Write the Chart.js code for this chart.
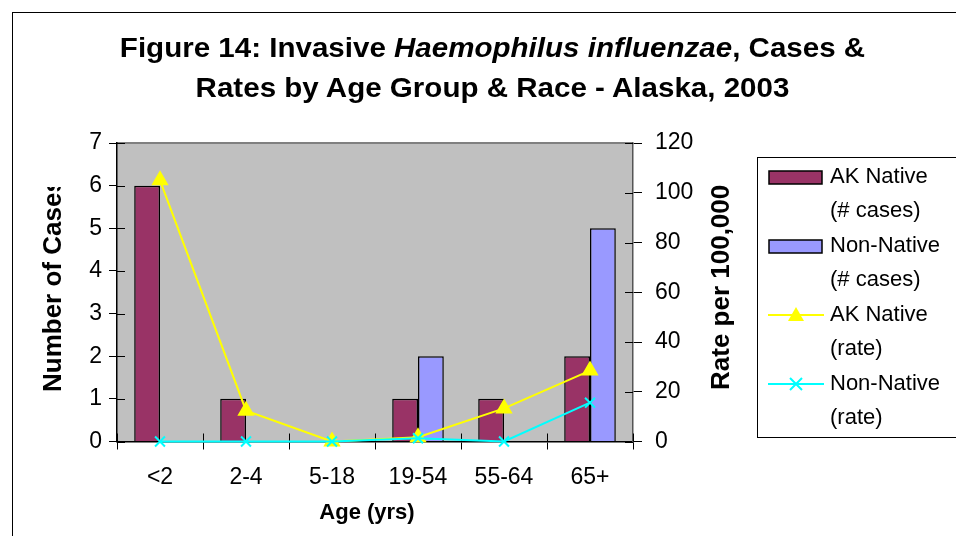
<!DOCTYPE html>
<html>
<head>
<meta charset="utf-8">
<script src="https://cdn.jsdelivr.net/npm/chart.js@4/dist/chart.umd.min.js"></script>
<style>
  body { margin: 0; background: #fff; font-family: "Liberation Sans", Arial, sans-serif; }
  #wrap { position: relative; width: 956px; height: 536px; overflow: hidden; }
  #frame { position: absolute; left: 12px; top: 12px; width: 1000px; height: 600px; border-left: 1px solid #000; border-top: 1px solid #000; }
  canvas { position: absolute; left: 0; top: 0; }
  .title { position: absolute; left: 0; width: 985px; text-align: center; font-weight: bold; font-size: 28px; color: #000; transform: scaleX(1.055); }
  .axt { position: absolute; font-weight: bold; font-size: 26px; color: #000; white-space: nowrap; }
  #legend { position: absolute; left: 757px; top: 157px; width: 260px; height: 279px; border: 1px solid #000; background: #fff; }
  .li { position: absolute; left: 72px; font-size: 22px; line-height: 34px; color: #000; }
  .sw { position: absolute; left: 10px; }
</style>
</head>
<body>
<div id="wrap">
  <div id="frame"></div>
  <canvas id="chart" width="956" height="536"></canvas>
  <div class="title" style="top:32px">Figure 14: Invasive <i>Haemophilus influenzae</i>, Cases &amp;</div>
  <div class="title" style="top:72px">Rates by Age Group &amp; Race - Alaska, 2003</div>
  <div style="position:absolute; left:30px; top:187px; width:40px; height:240px; overflow:hidden;">
    <div class="axt" style="left:7px; top:205px; transform-origin:0 0; transform:rotate(-90deg);">Number of Cases</div>
  </div>
  <div class="axt" style="left:705px; top:390px; transform-origin:0 0; transform:rotate(-90deg);">Rate per 100,000</div>
  <div class="axt" style="left:367px; top:499px; transform:translateX(-50%); font-size:22px;">Age (yrs)</div>
  <div id="legend"></div>
</div>
<script>
const ageGroups = ["<2", "2-4", "5-18", "19-54", "55-64", "65+"];
const nativeCases = [6, 1, 0, 1, 1, 2];
const nonNativeCases = [0, 0, 0, 2, 0, 5];
const nativeRate = [105, 12.4, 0, 1.7, 13.3, 28.5];
const nonNativeRate = [0, 0, 0, 1.3, 0, 15.6];
const casesTicks = [0, 1, 2, 3, 4, 5, 6, 7];
const rateTicks = [0, 20, 40, 60, 80, 100, 120];

const legendItems = [
  { l1: "AK Native", l2: "(# cases)", kind: "bar", color: "#993366" },
  { l1: "Non-Native", l2: "(# cases)", kind: "bar", color: "#9999FF" },
  { l1: "AK Native", l2: "(rate)", kind: "tri", color: "#FFFF00" },
  { l1: "Non-Native", l2: "(rate)", kind: "x", color: "#00FFFF" }
];

// gray plot area + top edge
const plotBg = {
  id: "plotBg",
  beforeDraw(chart) {
    const a = chart.chartArea;
    const ctx = chart.ctx;
    ctx.save();
    ctx.fillStyle = "#C0C0C0";
    ctx.fillRect(a.left, a.top, a.right - a.left, a.bottom - a.top);
    ctx.strokeStyle = "#808080";
    ctx.lineWidth = 2;
    ctx.beginPath();
    ctx.moveTo(a.left, a.top);
    ctx.lineTo(a.right, a.top);
    ctx.stroke();
    ctx.restore();
  }
};

// excel style ticks cross the axis, draw the inside half here
const innerTicks = {
  id: "innerTicks",
  beforeDatasetsDraw(chart) {
    const ctx = chart.ctx;
    const a = chart.chartArea;
    const len = 8;
    ctx.save();
    ctx.strokeStyle = "#000";
    ctx.lineWidth = 1;
    ctx.beginPath();
    const y = chart.scales.y, y2 = chart.scales.y2, x = chart.scales.x;
    y.ticks.forEach(t => {
      const p = Math.round(y.getPixelForValue(t.value)) + 0.5;
      ctx.moveTo(a.left, p); ctx.lineTo(a.left + len, p);
    });
    y2.ticks.forEach(t => {
      const p = Math.round(y2.getPixelForValue(t.value)) + 0.5;
      ctx.moveTo(a.right - len, p); ctx.lineTo(a.right, p);
    });
    const w = (a.right - a.left) / ageGroups.length;
    for (let i = 0; i <= ageGroups.length; i++) {
      const p = Math.round(x.getPixelForValue(i) - w / 2) + 0.5;
      ctx.moveTo(p, a.bottom - len); ctx.lineTo(p, a.bottom);
    }
    ctx.stroke();
    ctx.restore();
  }
};

const tickFont = { family: "Liberation Sans", size: 23 };

new Chart(document.getElementById("chart"), {
  type: "bar",
  data: {
    labels: ageGroups,
    datasets: [
      {
        label: "AK Native (# cases)",
        data: nativeCases,
        backgroundColor: "#993366",
        borderColor: "#000",
        borderWidth: 1.5,
        yAxisID: "y",
        order: 2,
        barPercentage: 1,
        categoryPercentage: 0.6
      },
      {
        label: "Non-Native (# cases)",
        data: nonNativeCases,
        backgroundColor: "#9999FF",
        borderColor: "#000",
        borderWidth: 1.5,
        yAxisID: "y",
        order: 2,
        barPercentage: 1,
        categoryPercentage: 0.6
      },
      {
        type: "line",
        label: "AK Native (rate)",
        data: nativeRate,
        borderColor: "#FFFF00",
        backgroundColor: "#FFFF00",
        borderWidth: 2,
        pointStyle: "triangle",
        pointRadius: 8,
        yAxisID: "y2",
        order: 1,
        clip: false
      },
      {
        type: "line",
        label: "Non-Native (rate)",
        data: nonNativeRate,
        borderColor: "#00FFFF",
        backgroundColor: "#00FFFF",
        borderWidth: 2,
        pointStyle: "crossRot",
        pointRadius: 7,
        pointBorderWidth: 2,
        yAxisID: "y2",
        order: 0,
        clip: false
      }
    ]
  },
  options: {
    responsive: false,
    animation: false,
    layout: { padding: { top: 143, left: 0, right: 0, bottom: 0 } },
    plugins: { legend: { display: false }, tooltip: { enabled: false } },
    scales: {
      x: {
        grid: { offset: true, drawOnChartArea: false, color: "#000", tickLength: 8 },
        border: { color: "#000", width: 1.5 },
        ticks: { color: "#000", font: tickFont, padding: 14 },
        afterFit(s) { s.height = 94.5; }
      },
      y: {
        position: "left",
        min: 0,
        max: 7,
        afterBuildTicks(s) { s.ticks = casesTicks.map(v => ({ value: v })); },
        grid: { drawOnChartArea: false, color: "#000", tickLength: 8 },
        border: { color: "#000", width: 1.5 },
        ticks: { color: "#000", font: tickFont, padding: 7 },
        afterFit(s) { s.width = 117; }
      },
      y2: {
        position: "right",
        min: 0,
        max: 120,
        afterBuildTicks(s) { s.ticks = rateTicks.map(v => ({ value: v })); },
        grid: { drawOnChartArea: false, color: "#000", tickLength: 9 },
        border: { color: "#555", width: 1.5 },
        ticks: { color: "#000", font: tickFont, padding: 13 },
        afterFit(s) { s.width = 323; }
      }
    }
  },
  plugins: [plotBg, innerTicks]
});

// legend box
const legendEl = document.getElementById("legend");
legendItems.forEach((it, i) => {
  const top = 1 + i * 69;
  let sw;
  if (it.kind === "bar") {
    sw = `<svg class="sw" style="top:${top + 11}px" width="55" height="15"><rect x="1" y="1" width="53" height="13" fill="${it.color}" stroke="#000" stroke-width="1.5"/></svg>`;
  } else if (it.kind === "tri") {
    sw = `<svg class="sw" style="top:${top + 8}px" width="56" height="20"><line x1="0" y1="10" x2="56" y2="10" stroke="${it.color}" stroke-width="2"/><polygon points="28,2 36,16 20,16" fill="${it.color}"/></svg>`;
  } else {
    sw = `<svg class="sw" style="top:${top + 8}px" width="56" height="20"><line x1="0" y1="10" x2="56" y2="10" stroke="${it.color}" stroke-width="2"/><path d="M22,4 L34,16 M34,4 L22,16" stroke="${it.color}" stroke-width="2"/></svg>`;
  }
  legendEl.innerHTML += sw + `<div class="li" style="top:${top}px">${it.l1}<br>${it.l2}</div>`;
});
</script>
</body>
</html>
